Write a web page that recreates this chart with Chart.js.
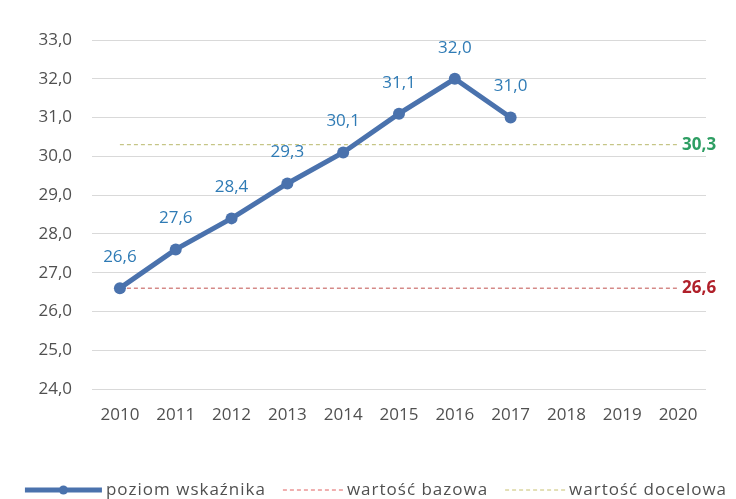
<!DOCTYPE html>
<html>
<head>
<meta charset="utf-8">
<script src="https://cdn.jsdelivr.net/npm/chart.js@4/dist/chart.umd.min.js"></script>
<style>
  html, body { margin: 0; padding: 0; background: #fff; }
  #wrap { width: 736px; height: 499px; }
</style>
</head>
<body>
<div id="wrap"><canvas id="chart"></canvas></div>
<script>
const years = ['2010', '2011', '2012', '2013', '2014', '2015', '2016', '2017', '2018', '2019', '2020'];
const poziom = [26.6, 27.6, 28.4, 29.3, 30.1, 31.1, 32.0, 31.0, null, null, null];
const bazowa = [26.6, 26.6, 26.6, 26.6, 26.6, 26.6, 26.6, 26.6, 26.6, 26.6, 26.6];
const docelowa = [30.3, 30.3, 30.3, 30.3, 30.3, 30.3, 30.3, 30.3, 30.3, 30.3, 30.3];
const seriesNames = ['poziom wskaźnika', 'wartość bazowa', 'wartość docelowa'];

const FONT = '"Open Sans", "Noto Sans", sans-serif';
const BLUE = '#4a72ad';
const TXT = '#505050';
const fmtPl = v => v.toFixed(1).replace('.', ',');

// value labels, end labels of the reference lines, and a hand-drawn legend row
const labelsPlugin = {
  id: 'labels',
  afterDatasetsDraw(chart) {
    const { ctx, scales: { x, y } } = chart;
    ctx.save();
    ctx.font = '17px ' + FONT;
    ctx.textAlign = 'center';
    ctx.textBaseline = 'middle';
    ctx.fillStyle = '#2f7bb5';
    poziom.forEach((v, i) => {
      if (v == null) return;
      ctx.fillText(fmtPl(v), x.getPixelForValue(i), y.getPixelForValue(v) - 31);
    });
    ctx.font = 'bold 17px ' + FONT;
    ctx.textAlign = 'left';
    const xe = x.getPixelForValue(years.length - 1) + 4;
    ctx.fillStyle = '#2e9e63';
    ctx.fillText(fmtPl(docelowa[docelowa.length - 1]), xe, y.getPixelForValue(docelowa[docelowa.length - 1]));
    ctx.fillStyle = '#b0202a';
    ctx.fillText(fmtPl(bazowa[bazowa.length - 1]), xe, y.getPixelForValue(bazowa[bazowa.length - 1]));
    ctx.restore();
  },
  afterDraw(chart) {
    const { ctx } = chart;
    ctx.save();
    ctx.font = '17px ' + FONT;
    ctx.letterSpacing = '1px';
    ctx.textBaseline = 'middle';
    ctx.textAlign = 'left';
    const items = [
      { w: 77, color: BLUE, lw: 5, dash: [], dot: true },
      { w: 60, color: '#e06060', lw: 1, dash: [4, 3] },
      { w: 60, color: '#c8c070', lw: 1, dash: [4, 3] }
    ];
    const gapBox = 4, gapItem = 17;
    let total = 0;
    items.forEach((it, i) => {
      it.tw = ctx.measureText(seriesNames[i]).width;
      total += it.w + gapBox + it.tw + (i ? gapItem : 0);
    });
    let xx = 376 - total / 2;
    const yy = 490;
    items.forEach((it, i) => {
      if (i) xx += gapItem;
      ctx.beginPath();
      ctx.strokeStyle = it.color;
      ctx.lineWidth = it.lw;
      ctx.setLineDash(it.dash);
      ctx.moveTo(xx, yy);
      ctx.lineTo(xx + it.w, yy);
      ctx.stroke();
      if (it.dot) {
        ctx.fillStyle = it.color;
        ctx.beginPath();
        ctx.arc(xx + it.w / 2, yy, 4.5, 0, Math.PI * 2);
        ctx.fill();
      }
      xx += it.w + gapBox;
      ctx.fillStyle = TXT;
      ctx.fillText(seriesNames[i], xx, yy);
      xx += it.tw;
    });
    ctx.restore();
  }
};

new Chart(document.getElementById('chart'), {
  type: 'line',
  data: {
    labels: years,
    datasets: [
      {
        label: seriesNames[0],
        data: poziom,
        borderColor: BLUE,
        backgroundColor: BLUE,
        borderWidth: 5,
        pointRadius: 6,
        pointHoverRadius: 6,
        pointBackgroundColor: BLUE,
        pointBorderWidth: 0,
        order: 0
      },
      {
        label: seriesNames[1],
        data: bazowa,
        borderColor: '#c0504d',
        borderWidth: 1,
        borderDash: [4, 3],
        pointRadius: 0,
        order: 1
      },
      {
        label: seriesNames[2],
        data: docelowa,
        borderColor: '#b8b86a',
        borderWidth: 1,
        borderDash: [4, 3],
        pointRadius: 0,
        order: 2
      }
    ]
  },
  options: {
    responsive: true,
    maintainAspectRatio: false,
    animation: false,
    layout: { padding: { top: 40, right: 30, left: 0, bottom: 0 } },
    plugins: {
      tooltip: { enabled: false },
      legend: { display: false }
    },
    scales: {
      x: {
        offset: true,
        grid: { display: false },
        border: { display: false },
        ticks: { color: TXT, font: { family: FONT, size: 17 }, padding: 8, maxRotation: 0 },
        afterFit(scale) { scale.height = 110; }
      },
      y: {
        min: 24,
        max: 33,
        grid: { color: '#d9d9d9', drawTicks: false },
        border: { display: false },
        ticks: {
          stepSize: 1,
          color: TXT,
          font: { family: FONT, size: 17 },
          padding: 20,
          callback: v => fmtPl(v)
        },
        afterFit(scale) { scale.width = 92; }
      }
    }
  },
  plugins: [labelsPlugin]
});
</script>
</body>
</html>
